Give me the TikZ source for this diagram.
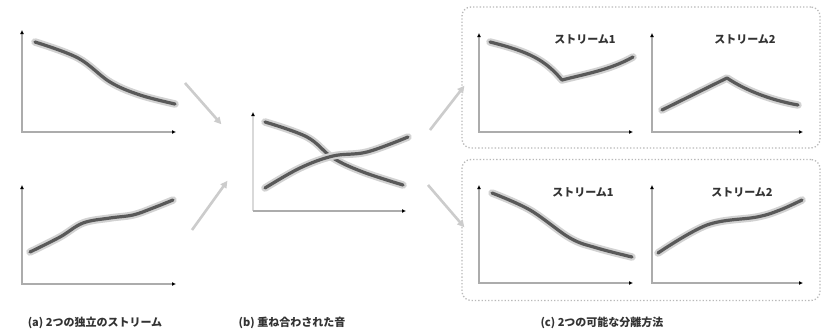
\documentclass[tikz,border=0pt]{standalone}
\usepackage{fontspec}
\setmainfont{Noto Sans CJK JP}
\usetikzlibrary{arrows.meta}
\tikzset{
  axisline/.style={draw=gray!65, line width=1.8pt, {Latex[length=4pt,width=4pt,black]}-{Latex[length=4pt,width=4pt,black]}},
  halo/.style={draw=gray!35, line width=7.5pt, line cap=round, line join=round},
  core/.style={draw=black!65, line width=3.2pt, line cap=round, line join=round},
  flowarrow/.style={draw=gray!40, line width=2.6pt, -{Triangle[length=7pt,width=7pt]}, shorten >=1pt},
  sepbox/.style={draw=gray!55, dotted, line width=1.3pt, rounded corners=9pt, minimum width=358pt, minimum height=141pt, inner sep=0pt},
  streamlabel/.style={font=\bfseries\fontsize{11}{12}\selectfont, text=black!80, inner sep=0pt},
  caption/.style={font=\bfseries\fontsize{11}{12}\selectfont, text=black!80, inner sep=0pt}
}
\newcommand\myaxes[4]{\draw[axisline] (#1,#2) -- (#1,#3) -- (#4,#3);}
\newcommand\mycurve[1]{\draw[halo] plot[smooth, tension=0.6] coordinates {#1};\draw[core] plot[smooth, tension=0.6] coordinates {#1};}
\begin{document}
\begin{tikzpicture}[x=1pt,y=-1pt]
\useasboundingbox (0,0) rectangle (823,335);
\fill[white] (0,0) rectangle (823,335);

% boxes
\node[sepbox] (boxU) at (641,77.5) {};
\node[sepbox] (boxL) at (641,230) {};

% (a) charts
\myaxes{22}{30}{132}{176}
\mycurve{(35,42) (78,58) (110,82) (140,95) (175,104)}
\myaxes{22}{185}{284}{176}
\mycurve{(30,252) (60,237) (83,223) (110,218) (133,215) (153,208) (173,200)}

% (b) chart
\draw[draw=gray!30, line width=1.8pt, {Latex[length=4pt,width=4pt,black]}-] (253,112) -- (253,211);
\draw[draw=gray!65, line width=1.8pt, -{Latex[length=4pt,width=4pt,black]}] (253,211) -- (406,211);
\mycurve{(265,122) (307,137) (333,158) (363,172) (403,185)}
\mycurve{(265,188) (300,168) (333,156) (367,152) (408,137)}

% (c) charts
\myaxes{479}{33}{132}{633}
\draw[halo] (490,42) .. controls (530,52) and (545,60) .. (562,80) .. controls (585,74) and (610,70) .. (633,57);
\draw[core] (490,42) .. controls (530,52) and (545,60) .. (562,80) .. controls (585,74) and (610,70) .. (633,57);
\myaxes{652}{33}{132}{803}
\draw[halo] (662,110) -- (727,78) .. controls (745,90) and (770,100) .. (798,105);
\draw[core] (662,110) -- (727,78) .. controls (745,90) and (770,100) .. (798,105);
\node[streamlabel] (s1u) at (585,39) {ストリーム1};
\node[streamlabel] (s2u) at (745,39) {ストリーム2};

\myaxes{479}{185}{283}{633}
\mycurve{(492,193) (530,210) (570,238) (597,248) (632,257)}
\myaxes{652}{185}{283}{803}
\mycurve{(658,253) (707,225) (757,217) (780,210) (802,200)}
\node[streamlabel] (s1l) at (583,192) {ストリーム1};
\node[streamlabel] (s2l) at (742,192) {ストリーム2};

% flow arrows
\coordinate (a1s) at (185,83);  \coordinate (a1e) at (222,125);
\coordinate (a2s) at (192,230); \coordinate (a2e) at (228,180);
\coordinate (a3s) at (430,130); \coordinate (a3e) at (465,85);
\coordinate (a4s) at (428,185); \coordinate (a4e) at (465,228);
\draw[flowarrow] (a1s) -- (a1e);
\draw[flowarrow] (a2s) -- (a2e);
\draw[flowarrow] (a3s) -- (a3e);
\draw[flowarrow] (a4s) -- (a4e);

% captions
\node[caption] (capa) at (95,323) {(a) 2つの独立のストリーム};
\node[caption] (capb) at (292,323) {(b) 重ね合わされた音};
\node[caption] (capc) at (602,323) {(c) 2つの可能な分離方法};
\end{tikzpicture}
\end{document}
